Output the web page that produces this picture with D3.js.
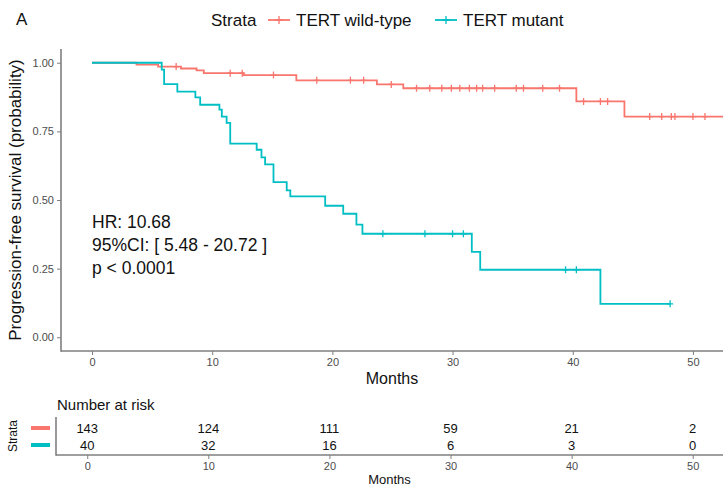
<!DOCTYPE html>
<html>
<head>
<meta charset="utf-8">
<script src="https://cdn.jsdelivr.net/npm/d3@7"></script>
<style>
  body { margin: 0; background: #fff; }
  text { font-family: "Liberation Sans", Arial, sans-serif; }
</style>
</head>
<body>
<script>
// size variables
var width = 723, height = 488;

// data
const groups = ["TERT wild-type", "TERT mutant"];
const colors = ["#F8766D", "#00BFC4"];

const wildTimes = [0, 3.7, 5.5, 7.4, 8.7, 9.3, 12.6, 17.0, 23.7, 25.9, 40.3, 44.3, 53];
const wildSurv  = [1, 0.993, 0.986, 0.979, 0.972, 0.962, 0.955, 0.936, 0.921, 0.907, 0.859, 0.804, 0.804];
const wildCensor = [7.0, 11.5, 12.5, 15.1, 18.7, 21.5, 22.6, 24.9, 27.0, 28.1, 29.1, 29.9, 30.6, 31.4,
                    32.0, 32.5, 33.5, 35.3, 35.9, 37.5, 38.9, 40.9, 42.3, 42.9, 46.4, 47.4, 48.2, 48.5, 50.0, 51.0];

const mutTimes = [0, 5.8, 6.0, 7.1, 8.6, 9.0, 10.6, 10.8, 11.2, 11.5, 13.7, 14.1, 14.4, 15.1, 16.2, 16.5,
                  19.4, 20.9, 22.0, 22.5, 31.6, 32.3, 42.3, 48.1];
const mutSurv  = [1, 0.975, 0.922, 0.895, 0.874, 0.847, 0.829, 0.804, 0.781, 0.705, 0.683, 0.655, 0.63, 0.565,
                  0.535, 0.513, 0.479, 0.45, 0.41, 0.377, 0.311, 0.246, 0.122, 0.122];
const mutCensor = [24.2, 27.7, 30.0, 30.9, 39.4, 40.3, 48.1];

const xTicks = [0, 10, 20, 30, 40, 50];
const yTicks = [0, 0.25, 0.5, 0.75, 1];
const riskWild = [143, 124, 111, 59, 21, 2];
const riskMut = [40, 32, 16, 6, 3, 0];
const statLines = ["HR: 10.68", "95%CI: [ 5.48 - 20.72 ]", "p < 0.0001"];

var axisCol = "#7f7f7f", tickTxt = "#4d4d4d";

var svg = d3.select('body').append('svg').attr('width', width).attr('height', height);

// main panel
var m = {left: 61, right: 723, top: 49, bottom: 351};
var x = d3.scaleLinear().domain([-2.58, 52.5]).range([m.left, m.right]);
var y = d3.scaleLinear().domain([-0.05, 1.05]).range([m.bottom, m.top]);

svg.append('clipPath').attr('id', 'clip')
  .append('rect').attr('x', m.left).attr('y', m.top - 5)
  .attr('width', m.right - m.left).attr('height', m.bottom - m.top + 5);

var curves = [
  {t: wildTimes, s: wildSurv, c: wildCensor, col: colors[0]},
  {t: mutTimes, s: mutSurv, c: mutCensor, col: colors[1]}
];

var line = d3.line().x(d => x(d[0])).y(d => y(d[1])).curve(d3.curveStepAfter);

// survival value at time t (for censor marks)
function survAt(cv, t) {
  var v = 1;
  cv.t.forEach((tt, i) => { if (tt <= t) v = cv.s[i]; });
  return v;
}

var plot = svg.append('g').attr('clip-path', 'url(#clip)');
curves.forEach(cv => {
  var pts = cv.t.map((t, i) => [t, cv.s[i]]);
  plot.append('path').attr('d', line(pts))
    .attr('fill', 'none').attr('stroke', cv.col).attr('stroke-width', 1.8);
  plot.selectAll(null).data(cv.c).join('path')
    .attr('d', d => {
      var px = x(d), py = y(survAt(cv, d));
      return `M${px},${py - 3.5}V${py + 3.5}M${px - 3},${py}H${px + 3}`;
    })
    .attr('stroke', cv.col).attr('stroke-width', 1.3);
});

// axes
var gx = svg.append('g').attr('transform', `translate(0,${m.bottom})`)
  .call(d3.axisBottom(x).tickValues(xTicks).tickSize(4).tickPadding(3));
var gy = svg.append('g').attr('transform', `translate(${m.left},0)`)
  .call(d3.axisLeft(y).tickValues(yTicks).tickFormat(d3.format('.2f')).tickSize(4).tickPadding(3));
[gx, gy].forEach(g => {
  g.select('.domain').remove();
  g.selectAll('line').attr('stroke', axisCol);
  g.selectAll('text').attr('fill', tickTxt).style('font-size', '11px');
});
svg.append('line').attr('x1', m.left).attr('x2', m.left).attr('y1', m.top).attr('y2', m.bottom + 0.8)
  .attr('stroke', axisCol).attr('stroke-width', 1.6);
svg.append('line').attr('x1', m.left).attr('x2', m.right).attr('y1', m.bottom).attr('y2', m.bottom)
  .attr('stroke', axisCol).attr('stroke-width', 1.6);

svg.append('text').attr('x', (m.left + m.right) / 2).attr('y', 384)
  .attr('text-anchor', 'middle').style('font-size', '16px').attr('fill', '#111').text('Months');
svg.append('text').attr('transform', `translate(21,${(m.top + m.bottom) / 2}) rotate(-90)`)
  .attr('text-anchor', 'middle').style('font-size', '17px').attr('fill', '#111')
  .text('Progression-free survival (probability)');

// stats text
svg.selectAll('.stat').data(statLines).join('text').attr('class', 'stat')
  .attr('x', x(0)).attr('y', (d, i) => 228 + i * 23)
  .style('font-size', '17.5px').attr('fill', '#111').text(d => d);

// tag and legend
svg.append('text').attr('x', 16).attr('y', 25).style('font-size', '17px').attr('fill', '#111').text('A');
var leg = svg.append('g').attr('transform', 'translate(0,20)');
leg.append('text').attr('x', 211).attr('y', 6).style('font-size', '17px').attr('fill', '#111').text('Strata');
var legX = [268, 435];
groups.forEach((g, i) => {
  var lx = legX[i];
  leg.append('line').attr('x1', lx).attr('x2', lx + 22).attr('y1', 0).attr('y2', 0)
    .attr('stroke', colors[i]).attr('stroke-width', 1.8);
  leg.append('path').attr('d', `M${lx + 11},-4V4M${lx + 7},0H${lx + 15}`)
    .attr('stroke', colors[i]).attr('stroke-width', 1.3);
  leg.append('text').attr('x', lx + 28).attr('y', 6).style('font-size', '17px').attr('fill', '#111').text(g);
});

// risk table
var r = {left: 56, right: 723, top: 417, bottom: 455};
var xr = d3.scaleLinear().domain([-2.58, 52.5]).range([r.left, r.right]);
var rowY = [428, 445];
svg.append('text').attr('x', 57).attr('y', 410).style('font-size', '15px').attr('fill', '#111').text('Number at risk');
[riskWild, riskMut].forEach((row, i) => {
  svg.selectAll(null).data(row).join('text')
    .attr('x', (d, j) => xr(xTicks[j])).attr('y', rowY[i] + 5)
    .attr('text-anchor', 'middle').style('font-size', '13px').attr('fill', '#111').text(d => d);
  svg.append('line').attr('x1', 31).attr('x2', 50).attr('y1', rowY[i]).attr('y2', rowY[i])
    .attr('stroke', colors[i]).attr('stroke-width', 4);
});
var gxr = svg.append('g').attr('transform', `translate(0,${r.bottom})`)
  .call(d3.axisBottom(xr).tickValues(xTicks).tickSize(4).tickPadding(3));
gxr.select('.domain').remove();
gxr.selectAll('line').attr('stroke', axisCol);
gxr.selectAll('text').attr('fill', tickTxt).style('font-size', '11px');
svg.append('line').attr('x1', r.left).attr('x2', r.left).attr('y1', r.top).attr('y2', r.bottom + 0.8)
  .attr('stroke', axisCol).attr('stroke-width', 1.6);
svg.append('line').attr('x1', r.left).attr('x2', r.right).attr('y1', r.bottom).attr('y2', r.bottom)
  .attr('stroke', axisCol).attr('stroke-width', 1.6);
svg.append('text').attr('transform', `translate(17,${(r.top + r.bottom) / 2}) rotate(-90)`)
  .attr('text-anchor', 'middle').style('font-size', '12px').attr('fill', '#111').text('Strata');
svg.append('text').attr('x', (r.left + r.right) / 2).attr('y', 484)
  .attr('text-anchor', 'middle').style('font-size', '13px').attr('fill', '#111').text('Months');
</script>
</body>
</html>
